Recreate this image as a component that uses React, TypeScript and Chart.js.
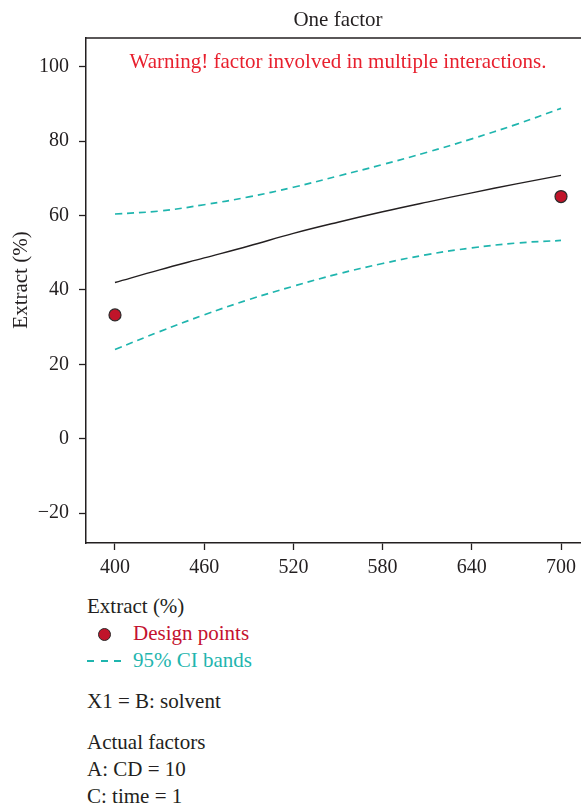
import React, { useEffect, useRef } from "react";
import { Chart, registerables } from "chart.js";

Chart.register(...registerables);

const xValues = [400, 430, 460, 490, 520, 550, 580, 610, 640, 670, 700];
const fitValues = [42.0, 45.4, 48.6, 51.8, 55.2, 58.2, 61.0, 63.6, 66.1, 68.5, 70.8];
const upperCI = [60.4, 61.2, 62.9, 65.0, 67.6, 70.6, 73.7, 77.0, 80.6, 84.5, 88.8];
const lowerCI = [24.0, 28.8, 33.3, 37.4, 41.0, 44.3, 47.1, 49.5, 51.3, 52.6, 53.3];
const designX = [400, 700];
const designY = [33.3, 65.1];
const xTicks = [400, 460, 520, 580, 640, 700];
const yTicks = [-20, 0, 20, 40, 60, 80, 100];

const FONT = "'Liberation Serif', 'Times New Roman', serif";
const TEXT = "#231f20";
const TEAL = "#1fb5ae";
const RED = "#c4122f";

const overlay = {
  id: "overlay",
  afterDraw(chart: any) {
    const { ctx, chartArea } = chart;
    ctx.save();
    ctx.strokeStyle = "#231f20";
    ctx.lineWidth = 1.5;
    ctx.beginPath();
    ctx.moveTo(chartArea.left, chartArea.top);
    ctx.lineTo(chartArea.right, chartArea.top);
    ctx.stroke();
    const cx = (chartArea.left + chartArea.right) / 2;
    ctx.textAlign = "center";
    ctx.textBaseline = "middle";
    ctx.fillStyle = TEXT;
    ctx.font = `21px ${FONT}`;
    ctx.fillText("One factor", cx, 20);
    ctx.fillStyle = "#e8202e";
    ctx.font = `21px ${FONT}`;
    ctx.fillText("Warning! factor involved in multiple interactions.", cx, 62);
    ctx.translate(21, 280);
    ctx.rotate(-Math.PI / 2);
    ctx.fillStyle = TEXT;
    ctx.font = `21px ${FONT}`;
    ctx.fillText("Extract (%)", 0, 0);
    ctx.restore();
  },
};

function ChartBox() {
  const ref = useRef<HTMLCanvasElement | null>(null);
  useEffect(() => {
    if (!ref.current) return;
    const pts = (ys: number[]) => xValues.map((x, i) => ({ x, y: ys[i] }));
    const dashed = (label: string, ys: number[]) => ({
      label,
      data: pts(ys),
      showLine: true,
      borderColor: TEAL,
      borderWidth: 1.7,
      borderDash: [7, 5],
      pointRadius: 0,
      tension: 0.4,
    });
    const chart = new Chart(ref.current, {
      type: "scatter",
      data: {
        datasets: [
          dashed("Upper CI", upperCI),
          dashed("Lower CI", lowerCI),
          {
            label: "Fit",
            data: pts(fitValues),
            showLine: true,
            borderColor: "#231f20",
            borderWidth: 1.4,
            pointRadius: 0,
            tension: 0.4,
          },
          {
            label: "Design points",
            data: designX.map((x, i) => ({ x, y: designY[i] })),
            showLine: false,
            pointRadius: 6,
            pointBackgroundColor: "#c0142a",
            pointBorderColor: "#2b2b2b",
            pointBorderWidth: 1.2,
          },
        ],
      },
      options: {
        animation: false,
        responsive: false,
        maintainAspectRatio: false,
        layout: { autoPadding: false, padding: { top: 38, right: 2, left: 0, bottom: 0 } },
        plugins: { legend: { display: false }, tooltip: { enabled: false }, title: { display: false } },
        scales: {
          x: {
            type: "linear",
            min: 380.5,
            max: 719.5,
            afterBuildTicks: (s: any) => {
              s.ticks = xTicks.map((v) => ({ value: v }));
            },
            afterFit: (s: any) => {
              s.height = 580 - 543;
            },
            grid: {
              drawOnChartArea: false,
              drawTicks: true,
              tickLength: 7,
              tickWidth: 1.3,
              tickColor: "#231f20",
            },
            border: { display: true, color: "#231f20", width: 1.5 },
            ticks: {
              color: TEXT,
              font: { family: FONT, size: 20 },
              padding: 6,
              maxRotation: 0,
              autoSkip: false,
            },
          },
          y: {
            type: "linear",
            min: -28,
            max: 107.7,
            afterBuildTicks: (s: any) => {
              s.ticks = yTicks.map((v) => ({ value: v }));
            },
            afterFit: (s: any) => {
              s.width = 86;
            },
            grid: {
              drawOnChartArea: false,
              drawTicks: true,
              tickLength: 7,
              tickWidth: 1.3,
              tickColor: "#231f20",
            },
            border: { display: true, color: "#231f20", width: 1.5 },
            ticks: {
              color: TEXT,
              font: { family: FONT, size: 20 },
              padding: 10,
              autoSkip: false,
              callback: (v: any) => (v < 0 ? "\u2212" + Math.abs(v) : String(v)),
            },
          },
        },
      },
      plugins: [overlay],
    });
    return () => chart.destroy();
  }, []);
  return <canvas ref={ref} width={592} height={580} style={{ position: "absolute", left: 0, top: 0, width: 592, height: 580 }} />;
}

const lineStyle: React.CSSProperties = {
  position: "absolute",
  left: 87,
  height: 27,
  lineHeight: "27px",
  fontFamily: FONT,
  fontSize: 21,
  color: TEXT,
  whiteSpace: "nowrap",
};

const dash = (left: number): React.CSSProperties => ({
  position: "absolute",
  left,
  top: 13,
  width: 7,
  height: 1.7,
  background: TEAL,
});

export default function App() {
  return (
    <div style={{ position: "absolute", left: 0, top: 0, width: 581, height: 805, overflow: "hidden", background: "#fff" }}>
      <ChartBox />
      <div style={{ ...lineStyle, top: 593 }}>Extract (%)</div>
      <div style={{ ...lineStyle, top: 620 }}>
        <span
          style={{
            position: "absolute",
            left: 104 - 87 - 6,
            top: 7.5,
            width: 11,
            height: 11,
            borderRadius: "50%",
            background: "#c0142a",
            border: "1.2px solid #2b2b2b",
          }}
        />
        <span style={{ position: "absolute", left: 133 - 87, color: RED }}>Design points</span>
      </div>
      <div style={{ ...lineStyle, top: 647 }}>
        <span style={dash(0)} />
        <span style={dash(13.5)} />
        <span style={dash(27)} />
        <span style={{ position: "absolute", left: 133 - 87, color: TEAL }}>95% CI bands</span>
      </div>
      <div style={{ ...lineStyle, top: 688 }}>X1 = B: solvent</div>
      <div style={{ ...lineStyle, top: 729 }}>Actual factors</div>
      <div style={{ ...lineStyle, top: 756 }}>A: CD = 10</div>
      <div style={{ ...lineStyle, top: 783 }}>C: time = 1</div>
    </div>
  );
}
